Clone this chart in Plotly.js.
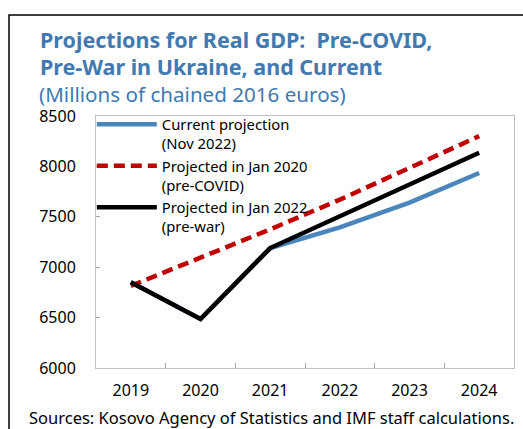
<!DOCTYPE html>
<html><head><meta charset="utf-8">
<script src="https://cdn.plot.ly/plotly-3.0.1.min.js"></script>
<style>html,body{margin:0;padding:0;background:#fff;}#chart{width:523px;height:429px;}</style>
</head><body><div id="chart"></div>
<script>
var years = ['2019','2020','2021','2022','2023','2024'];
var currentProj = [6850, 6486, 7190, 7395, 7640, 7935];
var preCovid = [6815, 7090, 7375, 7670, 7980, 8300];
var preWar = [6850, 6486, 7190, 7505, 7820, 8135];
var seriesNames = ['Current projection<br>(Nov 2022)', 'Projected in Jan 2020<br>(pre-COVID)', 'Projected in Jan 2022<br>(pre-war)'];
var yTicks = [6000, 6500, 7000, 7500, 8000, 8500];

var FONT = '"Noto Sans", "Open Sans", sans-serif';
var PW = 418, PH = 252, L = 96, B = 368;
function px(x) { return (x - L) / PW; }
function py(y) { return (B - y) / PH; }
var traces = [
  {x: years, y: currentProj, name: seriesNames[0], mode: 'lines', line: {color: '#4a86bb', width: 4.5}},
  {x: years, y: preCovid, name: seriesNames[1], mode: 'lines', line: {color: '#c00000', width: 4.5, dash: '11px,6px'}},
  {x: years, y: preWar, name: seriesNames[2], mode: 'lines', line: {color: '#000000', width: 4.5}}
];
var layout = {
  width: 523, height: 429,
  margin: {l: 96, r: 9, t: 116, b: 61},
  paper_bgcolor: '#fff', plot_bgcolor: '#fff',
  font: {family: FONT, size: 16, color: '#000'},
  showlegend: true,
  legend: {
    x: -0.01, y: 1.031, xanchor: 'left', yanchor: 'top', valign: 'top',
    bgcolor: 'rgba(0,0,0,0)', borderwidth: 0,
    font: {family: FONT, size: 14.8, color: '#000'},
    itemwidth: 60, tracegroupgap: 0
  },
  xaxis: {
    type: 'category', range: [-0.5, 5.5], tickson: 'boundaries', ticks: 'inside', ticklen: 5, tickcolor: '#a6a6a6',
    showline: true, linecolor: '#bfbfbf', linewidth: 1, mirror: true,
    showgrid: false, zeroline: false, fixedrange: true, ticklabelstandoff: 8,
    tickfont: {family: FONT, size: 16, color: '#000'}
  },
  yaxis: {
    range: [6000, 8500], tickvals: yTicks, ticktext: yTicks.map(String),
    ticks: 'inside', ticklen: 4, tickcolor: '#a6a6a6',
    showline: true, linecolor: '#bfbfbf', linewidth: 1, mirror: true,
    showgrid: false, zeroline: false, fixedrange: true, ticklabelstandoff: 16,
    tickfont: {family: FONT, size: 16, color: '#000'}
  },
  annotations: [
    {text: '<b>Projections for Real GDP:  Pre-COVID,</b>', xref: 'paper', yref: 'paper',
     x: px(39), y: py(40), xanchor: 'left', yanchor: 'middle', showarrow: false, borderpad: 0,
     font: {family: FONT, size: 21.5, color: '#4179b0'}},
    {text: '<b>Pre-War in Ukraine, and Current</b>', xref: 'paper', yref: 'paper',
     x: px(39), y: py(66), xanchor: 'left', yanchor: 'middle', showarrow: false, borderpad: 0,
     font: {family: FONT, size: 21.5, color: '#4179b0'}},
    {text: '(Millions of chained 2016 euros)', xref: 'paper', yref: 'paper',
     x: px(38), y: py(94), xanchor: 'left', yanchor: 'middle', showarrow: false, borderpad: 0,
     font: {family: FONT, size: 20.6, color: '#4179b0'}},
    {text: 'Sources: Kosovo Agency of Statistics and IMF staff calculations.', xref: 'paper', yref: 'paper',
     x: px(27), y: py(417), xanchor: 'left', yanchor: 'middle', showarrow: false,
     font: {family: FONT, size: 16.5, color: '#000'}}
  ],
  shapes: [
    {type: 'rect', xref: 'paper', yref: 'paper', x0: px(9), x1: 1.2, y0: -0.5, y1: py(15),
     line: {color: '#000', width: 1.5}, fillcolor: 'rgba(0,0,0,0)', layer: 'below'}
  ]
};
Plotly.newPlot('chart', traces, layout, {displayModeBar: false, staticPlot: true});
</script></body></html>
